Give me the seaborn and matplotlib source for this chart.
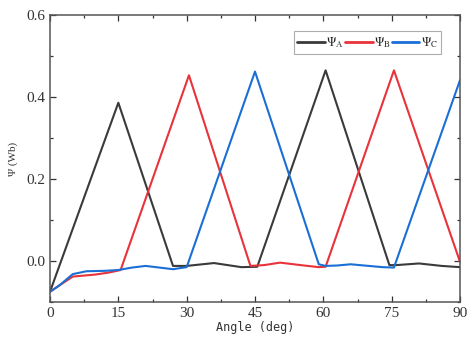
import numpy as np
import pandas as pd
import matplotlib
matplotlib.use("Agg")
import matplotlib.pyplot as plt
import seaborn as sns
from matplotlib.ticker import MultipleLocator
from matplotlib.lines import Line2D

# Data
angle_a = [0, 15, 27, 30, 36, 42, 45.5, 60.5, 74.5, 76, 81, 86, 90]
psi_a = [-0.075, 0.386, -0.012, -0.012, -0.005, -0.015, -0.014, 0.465, -0.01, -0.01, -0.006, -0.012, -0.015]

angle_b = [0, 2, 5, 10, 13, 15.5, 30.5, 44, 47, 50.5, 55, 59, 60.5, 75.5, 90]
psi_b = [-0.075, -0.06, -0.038, -0.033, -0.028, -0.022, 0.453, -0.012, -0.01, -0.004, -0.01, -0.015, -0.014, 0.465, -0.002]

angle_c = [0, 2, 5, 8, 12, 15, 18, 21, 24, 27, 30, 45, 59, 60.5, 63, 66, 70, 73, 75.5, 90]
psi_c = [-0.075, -0.06, -0.032, -0.025, -0.024, -0.022, -0.016, -0.012, -0.016, -0.02, -0.015, 0.462, -0.008, -0.012, -0.011, -0.008, -0.012, -0.015, -0.016, 0.441]

series_names = ["A", "B", "C"]
colors = ["#3a3a3a", "#e8333a", "#1a6fd6"]
x_ticks = [0, 15, 30, 45, 60, 75, 90]
y_ticks = [0.0, 0.2, 0.4, 0.6]

frames = []
for name, xs, ys in zip(series_names, [angle_a, angle_b, angle_c], [psi_a, psi_b, psi_c]):
    frames.append(pd.DataFrame({"angle": xs, "psi": ys, "phase": name}))
df = pd.concat(frames, ignore_index=True)

sns.set_style("ticks")
plt.rcParams["font.family"] = ["Liberation Serif", "DejaVu Serif"]
plt.rcParams["mathtext.fontset"] = "stix"

fig = plt.figure(figsize=(4.71, 3.40), dpi=100)
ax = fig.add_axes([50/471, 1 - 302/340, 410/471, 287/340])

sns.lineplot(data=df, x="angle", y="psi", hue="phase", palette=colors,
             linewidth=1.5, ax=ax, legend=False, sort=False, estimator=None)

ax.set_xlim(0, 90)
ax.set_ylim(-0.1, 0.6)
ax.set_xticks(x_ticks)
ax.set_yticks(y_ticks)
ax.set_yticklabels([f"{v:.1f}" for v in y_ticks])
ax.xaxis.set_minor_locator(MultipleLocator(7.5))
ax.yaxis.set_minor_locator(MultipleLocator(0.1))
ax.tick_params(which="both", direction="in", top=True, right=True, labelsize=11, colors="#333333")
ax.tick_params(which="major", length=4, width=0.9)
ax.tick_params(which="minor", length=2.5, width=0.9)
for s in ax.spines.values():
    s.set_color("#555555")
    s.set_linewidth(1.1)

ax.set_xlabel("Angle (deg)", fontsize=8.5, labelpad=1, color="#333333",
              family=["DejaVu Sans Mono", "DejaVu Sans"])
ax.set_ylabel("Ψ (Wb)", fontsize=8, labelpad=6, color="#333333")

handles = [Line2D([], [], color=c, linewidth=2) for c in colors]
labels = [r"$\Psi_{\mathrm{A}}$", r"$\Psi_{\mathrm{B}}$", r"$\Psi_{\mathrm{C}}$"]
leg = ax.legend(handles, labels, loc="upper right", ncol=3, fontsize=9,
                handlelength=2.2, handletextpad=0.1, columnspacing=0.1,
                frameon=True, fancybox=False, borderpad=0.3,
                bbox_to_anchor=(0.97, 0.965))
leg.get_frame().set_edgecolor("#999999")
leg.get_frame().set_linewidth(0.8)

fig.savefig("out.png", dpi=100)
